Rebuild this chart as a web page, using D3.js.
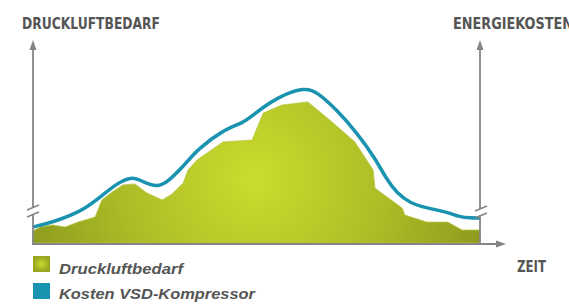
<!DOCTYPE html>
<html>
<head>
<meta charset="utf-8">
<script src="https://cdn.jsdelivr.net/npm/d3@7"></script>
<style>
  body { margin: 0; background: #fff; }
  svg { display: block; }
  text { font-family: "Liberation Sans Narrow", "DejaVu Sans Condensed", sans-serif; fill: #555; }
</style>
</head>
<body>
<div class="chart"></div>
<script>
// time (0-100) and relative value (0-100)
const demandTime = [0, 1.6, 4.3, 7.2, 10.1, 13.9, 15.4, 17.7, 20.1, 22.8, 25.5, 28.9, 31.1, 33.6, 34.7, 36.7, 42.5, 49.0, 51.5, 55.7, 61.5, 66.9, 72.0, 76.1, 76.5, 79.2, 82.6, 83.2, 88.1, 92.8, 96.0, 100]
const demandValue = [5.9, 7.9, 8.9, 7.9, 10.3, 12.8, 21.2, 25.1, 28.6, 29.1, 24.6, 21.2, 24.1, 29.6, 36.0, 40.9, 49.8, 50.7, 64.0, 68.0, 69.5, 59.6, 49.8, 36.0, 27.1, 22.7, 17.2, 13.8, 10.3, 10.3, 6.4, 6.4]

const costTime = [0, 4.5, 10.5, 14.3, 18.8, 22.4, 24.6, 27.7, 30.0, 34.5, 36.7, 42.5, 47.0, 49.2, 54.6, 60.9, 63.5, 68.0, 72.5, 76.5, 79.2, 81.4, 84.3, 88.1, 92.6, 95.5, 97.8, 100]
const costValue = [7.9, 10.3, 15.3, 21.2, 29.6, 33.0, 30.0, 27.6, 29.6, 39.9, 45.8, 55.7, 59.1, 63.1, 71.9, 76.8, 74.4, 65.5, 54.2, 41.9, 31.0, 24.6, 19.7, 17.2, 15.3, 12.8, 12.3, 12.3]

const legendLabels = ["Druckluftbedarf", "Kosten VSD-Kompressor"]

const width = 569, height = 305
const plotLeft = 33, plotRight = 480, plotTop = 40, base = 243

const x = d3.scaleLinear().domain([0, 100]).range([plotLeft, plotRight])
const y = d3.scaleLinear().domain([0, 100]).range([base, plotTop])

const demand = demandTime.map((t, i) => ({t, v: demandValue[i]}))
const cost = costTime.map((t, i) => ({t, v: costValue[i]}))

const svg = d3.select(".chart").append("svg")
    .attr("width", width)
    .attr("height", height)

const defs = svg.append("defs")
const grad = defs.append("radialGradient")
    .attr("id", "green")
    .attr("gradientUnits", "userSpaceOnUse")
    .attr("cx", 255).attr("cy", 178).attr("r", 240)
grad.append("stop").attr("offset", "0%").attr("stop-color", "#cadd2e")
grad.append("stop").attr("offset", "55%").attr("stop-color", "#acbc26")
grad.append("stop").attr("offset", "100%").attr("stop-color", "#8c991e")

const grey = "#858585"

// demand area
svg.append("path")
    .datum(demand)
    .attr("d", d3.area().x(d => x(d.t)).y0(base).y1(d => y(d.v)))
    .attr("fill", "url(#green)")
    .attr("stroke", "#b9c84a")
    .attr("stroke-width", 0.8)

// cost line
svg.append("path")
    .datum(cost)
    .attr("d", d3.line().x(d => x(d.t)).y(d => y(d.v)).curve(d3.curveBasis))
    .attr("fill", "none")
    .attr("stroke", "#1a93b0")
    .attr("stroke-width", 3.5)

// axes
const axisG = svg.append("g").attr("stroke", grey).attr("stroke-width", 1.8)
;[plotLeft, plotRight].forEach(ax => {
    axisG.append("line").attr("x1", ax).attr("x2", ax).attr("y1", base).attr("y2", plotTop + 8)
    svg.append("path")
        .attr("d", `M${ax},${plotTop} L${ax - 3.5},${plotTop + 10} L${ax + 3.5},${plotTop + 10} Z`)
        .attr("fill", grey)
})
axisG.append("line").attr("x1", plotLeft - 1).attr("x2", 498).attr("y1", base + 1).attr("y2", base + 1)
svg.append("path")
    .attr("d", `M506,${base + 1} L496,${base - 2.5} L496,${base + 4.5} Z`)
    .attr("fill", grey)

// axis breaks
const breaks = [[plotLeft, 211], [plotRight + 1, 212]]
breaks.forEach(([bx, by]) => {
    svg.append("rect").attr("x", bx - 3).attr("y", by - 3).attr("width", 6).attr("height", 6).attr("fill", "#fff")
    ;[-3.5, 3.5].forEach(o => {
        svg.append("line")
            .attr("x1", bx - 6).attr("y1", by + o + 2.5)
            .attr("x2", bx + 6).attr("y2", by + o - 2.5)
            .attr("stroke", grey).attr("stroke-width", 1.5)
    })
})

// titles
const title = (t, tx, ty, len) => svg.append("text")
    .attr("x", tx).attr("y", ty)
    .attr("font-size", 16).attr("font-weight", "bold")
    .attr("textLength", len).attr("lengthAdjust", "spacingAndGlyphs")
    .text(t)
title("DRUCKLUFTBEDARF", 22, 29, 138)
title("ENERGIEKOSTEN", 453, 29, 120)
title("ZEIT", 517, 272, 29)

// legend
const legendColors = ["url(#legendGreen)", "#1a93b0"]
const lg = defs.append("radialGradient").attr("id", "legendGreen")
lg.append("stop").attr("offset", "0%").attr("stop-color", "#c6d92c")
lg.append("stop").attr("offset", "100%").attr("stop-color", "#97a521")

const legend = svg.append("g")
legend.selectAll("rect")
    .data(legendLabels)
    .enter()
    .append("rect")
        .attr("x", 33)
        .attr("y", (_, i) => 256 + i * 27)
        .attr("width", 17)
        .attr("height", 16)
        .attr("fill", (_, i) => legendColors[i])

legend.selectAll("text")
    .data(legendLabels)
    .enter()
    .append("text")
        .attr("x", 59)
        .attr("y", (_, i) => 274 + i * 25)
        .attr("font-size", 15)
        .attr("font-weight", "bold")
        .attr("font-style", "italic")
        .attr("textLength", (_, i) => [124, 196][i])
        .attr("lengthAdjust", "spacingAndGlyphs")
        .style("font-family", "'Liberation Sans', Arial, sans-serif")
        .text(d => d)
</script>
</body>
</html>
